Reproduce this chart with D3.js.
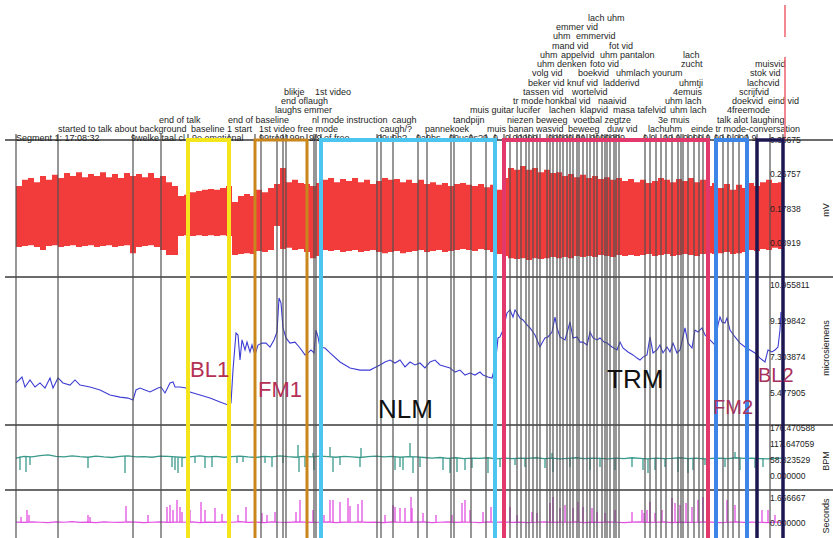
<!DOCTYPE html>
<html><head><meta charset="utf-8">
<script src="https://cdn.jsdelivr.net/npm/d3@7"></script>
<style>body{margin:0;background:#fff}svg{display:block}text{font-family:"Liberation Sans",Arial,Helvetica,sans-serif}</style>
</head><body><svg id="c" width="833" height="538"></svg>
<script>
// ---------- DATA (time in seconds from segment start) ----------
const eventTimes = [0,126,351,435,516,639,717,735,783,801,810,873,894,900,915,1083,1095,1131,1206,1233,1305,1314,1365,1410,1437,1464,1482,1503,1515,1530,1539,1551,1563,1572,1593,1602,1611,1623,1632,1641,1653,1662,1671,1683,1689,1701,1713,1722,1734,1743,1758,1767,1773,1782,1794,1800,1809,1887,1902,1920,1935,1950,1968,1986,1995,2001,2016,2034,2049,2061,2076,2100,2121,2136,2151,2169,2193,2223,2262,2301];

// [time, stack level, text]
const eventLabels = [
 [0,0,"Segment 1: 17:08:32"],[345,0,"9welke taal cl"],[528,0,"9e emotional"],[729,0,"99tro9199n"],[879,0,"9/9 of free"],
 [1083,0,"99u9h?"],[1200,0,"9a9hs"],[1299,0,"99uc9s?9"],[1431,0,"9"],[1467,0,"9.90999"],[1596,0,"99999.99"],
 [1722,0,"9999999"],[1881,0,"9 9"],[1941,0,"99 9.9999 9"],[2094,0,"99 9.999 9"],
 [126,1,"started to talk about background"],[525,1,"baseline 1 start"],[729,1,"1st video free mode"],[1092,1,"caugh/?"],
 [1227,1,"pannekoek"],[1413,1,"muis banan wasvid"],[1656,1,"beweeg"],[1773,1,"duw vid"],[1896,1,"lachuhm"],[2025,1,"einde tr mode-conversation"],
 [429,2,"end of talk"],[636,2,"end of baseline"],[888,2,"nl mode instruction"],[1128,2,"caugh"],[1311,2,"tandpijn"],
 [1473,2,"niezen beweeg"],[1671,2,"voetbal zegtze"],[1926,2,"3e muis"],[2103,2,"talk alot laughing"],
 [777,3,"laughs emmer"],[1362,3,"muis guitar lucifer"],[1599,3,"lachen"],[1692,3,"klapvid"],[1791,3,"masa tafelvid"],[1962,3,"uhm lach"],[2133,3,"4freemode"],
 [795,4,"end oflaugh"],[1491,4,"tr mode"],[1587,4,"honkbal vid"],[1746,4,"naaivid"],[1947,4,"uhm lach"],[2148,4,"doekvid"],[2256,4,"eind vid"],
 [804,5,"blikje"],[897,5,"1st video"],[1521,5,"tassen vid"],[1668,5,"wortelvid"],[1971,5,"4emuis"],[2169,5,"scrijfvid"],
 [1536,6,"beker vid"],[1653,6,"knuf vid"],[1761,6,"ladderivd"],[1989,6,"uhmtji"],[2193,6,"lachcvid"],
 [1548,7,"volg vid"],[1686,7,"boekvid"],[1800,7,"uhmlach yourum"],[2202,7,"stok vid"],
 [1563,8,"uhm denken"],[1722,8,"foto vid"],[1995,8,"zucht"],[2217,8,"muisvid"],
 [1572,9,"uhm"],[1635,9,"appelvid"],[1752,9,"uhm pantalon"],[2001,9,"lach"],
 [1608,10,"mand vid"],[1779,10,"fot vid"],
 [1611,11,"uhm"],[1680,11,"emmervid"],
 [1620,12,"emmer vid"],
 [1716,13,"lach uhm"]
];

const boxNames = ["BL1","FM1","NLM","TRM","FM2","BL2"];
const boxStart = [516,717,915,1464,2100,2223];
const boxEnd   = [639,873,1437,2076,2193,2301];
const cursorTime = 2307;

// EMG (mV) envelope, sampled every 18 s
const mvStep = 18;
const mvHigh = [0.237,0.253,0.258,0.247,0.263,0.253,0.266,0.258,0.271,0.263,0.273,0.260,0.268,0.263,0.273,0.260,0.268,0.258,0.271,0.263,
 0.268,0.260,0.271,0.258,0.263,0.247,0.237,0.211,0.214,0.221,0.224,0.227,0.229,0.227,0.232,0.237,0.195,0.211,0.216,0.211,
 0.227,0.221,0.232,0.242,0.284,0.247,0.253,0.245,0.242,0.237,0.245,0.253,0.258,0.247,0.255,0.250,0.258,0.247,0.253,0.242,
 0.250,0.258,0.253,0.255,0.247,0.253,0.245,0.253,0.242,0.247,0.240,0.245,0.237,0.242,0.245,0.240,0.237,0.242,0.234,0.240,
 0.227,0.258,0.284,0.279,0.289,0.279,0.284,0.273,0.279,0.271,0.273,0.263,0.268,0.260,0.266,0.258,0.263,0.255,0.260,0.253,
 0.258,0.250,0.255,0.247,0.253,0.245,0.250,0.258,0.253,0.247,0.255,0.250,0.258,0.247,0.253,0.237,0.245,0.232,0.242,0.227,
 0.240,0.232,0.245,0.237,0.247,0.253,0.245,0.247,0.242];
const mvLow = [0.078,0.081,0.083,0.078,0.070,0.081,0.083,0.078,0.081,0.083,0.078,0.081,0.083,0.078,0.081,0.083,0.078,0.081,0.083,0.062,
 0.078,0.081,0.083,0.078,0.070,0.057,0.057,0.107,0.109,0.107,0.109,0.107,0.109,0.107,0.109,0.107,0.057,0.060,0.062,0.060,
 0.068,0.065,0.070,0.133,0.073,0.076,0.070,0.073,0.065,0.049,0.055,0.070,0.068,0.070,0.065,0.068,0.070,0.065,0.068,0.070,
 0.065,0.062,0.065,0.068,0.062,0.065,0.068,0.070,0.065,0.068,0.070,0.065,0.068,0.070,0.073,0.070,0.068,0.073,0.070,0.065,
 0.060,0.055,0.049,0.047,0.049,0.044,0.049,0.047,0.049,0.052,0.049,0.052,0.049,0.055,0.052,0.055,0.052,0.057,0.055,0.052,
 0.057,0.055,0.057,0.055,0.057,0.060,0.055,0.057,0.060,0.055,0.057,0.060,0.057,0.055,0.060,0.062,0.060,0.062,0.065,0.060,
 0.062,0.065,0.070,0.068,0.073,0.070,0.076,0.073,0.070];

// skin conductance (microsiemens): [time, value]
const scSeries = [[0,5.99],[18,6.29],[27,5.78],[42,6.14],[57,5.78],[72,5.99],[87,5.73],[102,6.24],[111,5.73],[126,6.24],[141,5.99],[162,5.88],[177,6.14],[192,5.88],[222,5.78],[252,5.63],[282,5.38],[312,5.27],[336,5.22],[351,5.12],[360,5.63],[372,5.73],[387,5.63],[402,5.53],[426,5.73],[435,5.78],[447,5.48],[462,5.99],[471,6.04],[477,5.78],[492,5.78],[510,5.73],[522,5.53],[552,5.38],[582,5.22],[612,5.02],[636,4.87],[645,4.97],[651,6.64],[660,8.52],[666,8.42],[672,7.15],[678,8.17],[687,7.66],[693,8.06],[702,7.56],[708,7.91],[717,7.41],[726,7.91],[738,8.01],[750,8.01],[762,7.81],[774,8.17],[783,8.57],[789,10.30],[795,10.04],[801,8.78],[810,8.27],[822,8.01],[837,8.06],[852,7.76],[867,7.41],[876,7.51],[885,7.66],[894,7.51],[900,8.67],[906,8.32],[912,7.81],[927,7.76],[942,7.51],[972,7.05],[987,6.90],[1002,6.75],[1032,6.64],[1062,6.64],[1080,6.80],[1092,6.90],[1107,7.05],[1122,7.15],[1137,7.00],[1152,7.15],[1167,6.80],[1182,7.05],[1197,6.90],[1212,7.00],[1227,6.75],[1242,7.05],[1257,7.15],[1272,6.90],[1302,6.75],[1317,6.54],[1332,6.64],[1347,6.39],[1362,6.49],[1377,6.39],[1392,6.54],[1401,6.39],[1416,6.29],[1428,6.24],[1437,6.80],[1446,8.27],[1452,8.32],[1461,8.67],[1473,9.54],[1482,9.69],[1491,9.33],[1497,9.69],[1503,9.54],[1512,9.28],[1521,9.18],[1533,8.93],[1542,8.78],[1557,8.42],[1572,7.81],[1578,8.01],[1587,8.27],[1596,8.32],[1608,8.57],[1617,9.33],[1623,8.78],[1632,8.32],[1647,8.17],[1662,9.08],[1671,8.27],[1683,8.32],[1692,8.06],[1701,8.06],[1713,7.91],[1722,8.57],[1731,8.27],[1743,8.17],[1752,8.27],[1764,8.06],[1773,8.01],[1788,7.81],[1803,7.66],[1812,8.06],[1821,7.76],[1836,7.56],[1851,7.41],[1863,7.25],[1872,7.15],[1881,7.30],[1893,7.41],[1902,8.32],[1911,7.51],[1923,7.66],[1932,7.91],[1941,7.51],[1953,7.81],[1962,7.56],[1971,8.01],[1983,7.51],[1992,7.66],[2001,8.32],[2007,8.78],[2016,8.01],[2028,7.76],[2037,8.67],[2046,8.57],[2058,8.78],[2067,8.42],[2082,8.17],[2097,7.91],[2106,8.93],[2112,9.33],[2118,9.08],[2127,9.03],[2133,9.28],[2142,8.67],[2157,8.32],[2172,8.01],[2187,7.81],[2202,7.66],[2217,7.51],[2232,7.25],[2247,7.05],[2256,7.66],[2268,7.56],[2277,7.66],[2286,7.81],[2292,8.67],[2295,9.59]];

// heart rate (BPM), sampled every 24 s, plus short spikes [time, value]
const bpmStep = 24;
const bpmBase = [66,72,70,75,78,72,70,74,71,69, 73,70,68,72,74,70,71,69,73,72, 70,68,71,74,70,72,69,71,73,70,
 68,72,70,74,71,69,72,70,73,71, 69,72,70,68,71,73,70,72,69,71, 70,68,66,68,65,67,64,66,65,67,
 63,66,64,66,65,67,64,66,63,65, 67,64,66,65,63,66,64,67,65,63, 66,64,65,67,64,66,63,65,66,64, 67,65,66,64,63,65,66];
const bpmSpikes = [[12,22.1],[30,14.7],[42,40.4],[216,29.4],[327,11.0],[468,33.1],[477,22.1],[486,11.0],[498,33.1],[537,47.8],[567,29.4],[588,33.1],[663,47.8],[681,51.5],[747,47.8],[768,33.1],[801,47.8],[846,114],[849,14.7],[867,33.1],[891,84.5],[894,22.1],[912,33.1],[942,106.6],[951,14.7],[972,40.4],[1032,33.1],[1035,102.9],[1137,22.1],[1152,33.1],[1161,22.1],[1182,121.3],[1191,11.0],[1212,33.1],[1281,22.1],[1302,11.0],[1323,14.7],[1347,22.1],[1368,29.4],[1416,11.0],[1452,33.1],[1497,40.4],[1527,33.1],[1587,29.4],[1608,84.5],[1611,14.7],[1662,33.1],[1722,22.1],[1752,33.1],[1797,22.1],[1848,33.1],[1881,22.1],[1896,11.0],[1917,22.1],[1947,33.1],[1986,14.7],[2016,11.0],[2031,22.1],[2067,40.4],[2127,33.1],[2157,88],[2172,22.1],[2217,29.4],[2223,84.5],[2241,33.1]];

// inter-beat deviation (Seconds), sampled every 24 s, plus spikes [time, value]
const secStep = 24;
const secBase = [0.06,0.04,0.08,0.05,0.03,0.07,0.05,0.09,0.04,0.06, 0.03,0.07,0.05,0.04,0.08,0.06,0.03,0.05,0.07,0.04,
 0.06,0.05,0.08,0.03,0.06,0.04,0.07,0.05,0.09,0.04, 0.06,0.03,0.07,0.05,0.04,0.08,0.06,0.04,0.05,0.07,
 0.03,0.06,0.05,0.08,0.04,0.06,0.03,0.07,0.05,0.04, 0.06,0.08,0.03,0.05,0.07,0.04,0.06,0.05,0.03,0.07,
 0.05,0.08,0.04,0.06,0.03,0.05,0.07,0.04,0.06,0.05, 0.08,0.03,0.06,0.04,0.07,0.05,0.03,0.06,0.08,0.04,
 0.05,0.07,0.03,0.06,0.04,0.05,0.08,0.06,0.03,0.05, 0.07,0.04,0.06,0.05,0.03,0.06,0.05];
const secSpikes = [[15,0.40],[33,0.87],[39,0.53],[216,0.53],[222,0.40],[330,1.13],[396,0.53],[453,1.07],[462,1.20],[471,0.87],[483,1.53],[492,1.07],[498,0.73],[522,0.87],[555,1.40],[567,0.87],[597,1.00],[618,0.60],[666,0.53],[690,1.07],[738,0.67],[753,0.53],[777,0.73],[840,0.73],[852,1.53],[891,0.87],[924,0.53],[942,1.53],[951,1.53],[972,1.40],[996,1.67],[1002,1.13],[1026,1.27],[1038,1.53],[1107,0.53],[1131,1.20],[1137,1.07],[1152,1.00],[1167,1.00],[1185,1.73],[1188,1.00],[1221,0.67],[1260,0.53],[1308,0.53],[1338,1.33],[1347,1.53],[1362,0.87],[1401,0.73],[1425,1.07],[1482,1.07],[1503,0.53],[1548,0.73],[1563,0.67],[1602,1.33],[1611,1.73],[1632,1.00],[1647,1.20],[1671,1.00],[1686,1.40],[1701,1.07],[1728,1.00],[1743,0.73],[1767,0.67],[1797,0.87],[1848,0.73],[1878,0.87],[1884,0.67],[1893,0.87],[1902,1.40],[1917,0.67],[1938,0.87],[1968,1.67],[1977,1.33],[1992,1.20],[2010,1.33],[2028,1.07],[2046,1.53],[2061,1.73],[2097,0.53],[2133,1.53],[2157,1.20],[2196,1.00],[2238,0.87],[2256,0.87],[2277,0.53]];

// axis ticks
const mvTicks  = [0.35675,0.26757,0.17838,0.08919];
const scTicks  = [10.955811,9.129842,7.303874,5.477905];
const bpmTicks = [176.470588,117.647059,58.823529,0];
const secTicks = [1.666667,0];
const unitNames = ["mV","microsiemens","BPM","Seconds"];

// ---------- DRAW ----------
const svg = d3.select("#c");
svg.append("rect").attr("width",833).attr("height",538).attr("fill","#fff");

const x = d3.scaleLinear().domain([0,2304]).range([16,784]);
const yMV  = d3.scaleLinear().domain([0,0.35675]).range([277,140]);
const ySC  = d3.scaleLinear().domain([5.477905,10.955811]).range([393,285]);
const yBPM = d3.scaleLinear().domain([0,176.470588]).range([476,428]);
const ySEC = d3.scaleLinear().domain([0,1.666667]).range([523,498]);

// EMG band
svg.append("path").datum(mvHigh)
  .attr("d", d3.area().curve(d3.curveStepAfter).x((d,i)=>x(i*mvStep)).y0((d,i)=>yMV(mvLow[i])).y1(d=>yMV(d)))
  .attr("fill","#f23c3c");

// SC line
svg.append("path").datum(scSeries)
  .attr("d", d3.line().x(d=>x(d[0])).y(d=>ySC(d[1])))
  .attr("fill","none").attr("stroke","#3d3dd4").attr("stroke-width",1.1);

// BPM
const bpmCol = "#3a9a8b";
svg.append("path").datum(bpmBase)
  .attr("d", d3.line().x((d,i)=>x(i*bpmStep)).y(d=>yBPM(d)))
  .attr("fill","none").attr("stroke",bpmCol).attr("stroke-width",1.3);
svg.append("g").selectAll("line").data(bpmSpikes).join("line")
  .attr("x1",d=>x(d[0])).attr("x2",d=>x(d[0]))
  .attr("y1",d=>yBPM(bpmBase[Math.min(bpmBase.length-1,Math.round(d[0]/bpmStep))]))
  .attr("y2",d=>yBPM(d[1]))
  .attr("stroke",bpmCol).attr("stroke-width",1.3);

// Seconds
const secCol = "#e24fe2";
svg.append("path").datum(secBase)
  .attr("d", d3.line().x((d,i)=>x(i*secStep)).y(d=>ySEC(d)))
  .attr("fill","none").attr("stroke",secCol).attr("stroke-width",1.2);
svg.append("g").selectAll("line").data(secSpikes).join("line")
  .attr("x1",d=>x(d[0])).attr("x2",d=>x(d[0]))
  .attr("y1",d=>ySEC(secBase[Math.min(secBase.length-1,Math.round(d[0]/secStep))]))
  .attr("y2",d=>ySEC(d[1]))
  .attr("stroke",secCol).attr("stroke-width",1.3);

// panel separators
[140,277,425,490].forEach(yy=>{
  svg.append("line").attr("x1",5).attr("x2",833).attr("y1",yy).attr("y2",yy)
    .attr("stroke","#3a3a3a").attr("stroke-width",1.5);
});

// event lines
svg.append("g").selectAll("line").data(eventTimes).join("line")
  .attr("x1",d=>x(d)).attr("x2",d=>x(d)).attr("y1",134).attr("y2",538)
  .attr("stroke","#505050").attr("stroke-opacity",0.85).attr("stroke-width",1.4);

// event labels
svg.append("g").selectAll("text").data(eventLabels).join("text")
  .attr("x",d=>x(d[0])).attr("y",d=>141-9.23*d[1])
  .attr("font-size","9px").attr("fill","#1e1e1e").text(d=>d[2]);

// cursor marker (top right)
svg.append("line").attr("x1",x(cursorTime)).attr("x2",x(cursorTime)).attr("y1",5).attr("y2",37)
  .attr("stroke","#f0606e").attr("stroke-width",1.5);
svg.append("line").attr("x1",x(cursorTime)).attr("x2",x(cursorTime)).attr("y1",57).attr("y2",140)
  .attr("stroke","#f0606e").attr("stroke-width",1.5);

// axes (right side)
function rightAxis(scale, ticks, fmt){
  const g = svg.append("g").attr("transform","translate(768,0)")
    .call(d3.axisRight(scale).tickValues(ticks).tickFormat(d3.format(fmt)).tickSize(0).tickPadding(2));
  g.select(".domain").remove();
  g.selectAll("text").attr("font-size","8.5px").attr("fill","#222")
    .attr("font-family",'"Liberation Sans",Arial,sans-serif');
}
rightAxis(yMV, mvTicks, ".5f");
rightAxis(ySC, scTicks, ".6f");
rightAxis(yBPM, bpmTicks, ".6f");
rightAxis(ySEC, secTicks, ".6f");

// unit labels
const unitY = [210,348,461,516];
unitNames.forEach((u,i)=>{
  svg.append("text").attr("transform",`translate(829,${unitY[i]}) rotate(-90)`)
    .attr("text-anchor","middle").attr("font-size","9px").attr("fill","#222").text(u);
});

// boxes
const boxColors = ["#f4e51c","#c8861c","#4cc6f0","#e2386c","#3d85e6","#1c1650"];
const boxWidths = [4,3,4,4,4,3.5];
boxNames.forEach((n,i)=>{
  svg.append("rect").attr("x",x(boxStart[i])).attr("y",140)
    .attr("width",x(boxEnd[i])-x(boxStart[i])).attr("height",420)
    .attr("fill","none").attr("stroke",boxColors[i]).attr("stroke-width",boxWidths[i]);
});

// box labels (layout: offset from box start, baseline y, size, colour)
const boxLabelLayout = [[2,377,22,"#b53055"],[3,397,22,"#b53055"],[57,418,26,"#111"],[103,388,26,"#111"],[-3,414,20,"#a8305c"],[1,382,20,"#a8305c"]];
boxNames.forEach((n,i)=>{
  const L = boxLabelLayout[i];
  svg.append("text").attr("x",x(boxStart[i])+L[0]).attr("y",L[1])
    .attr("font-size",L[2]+"px").attr("fill",L[3]).text(n);
});
</script></body></html>
